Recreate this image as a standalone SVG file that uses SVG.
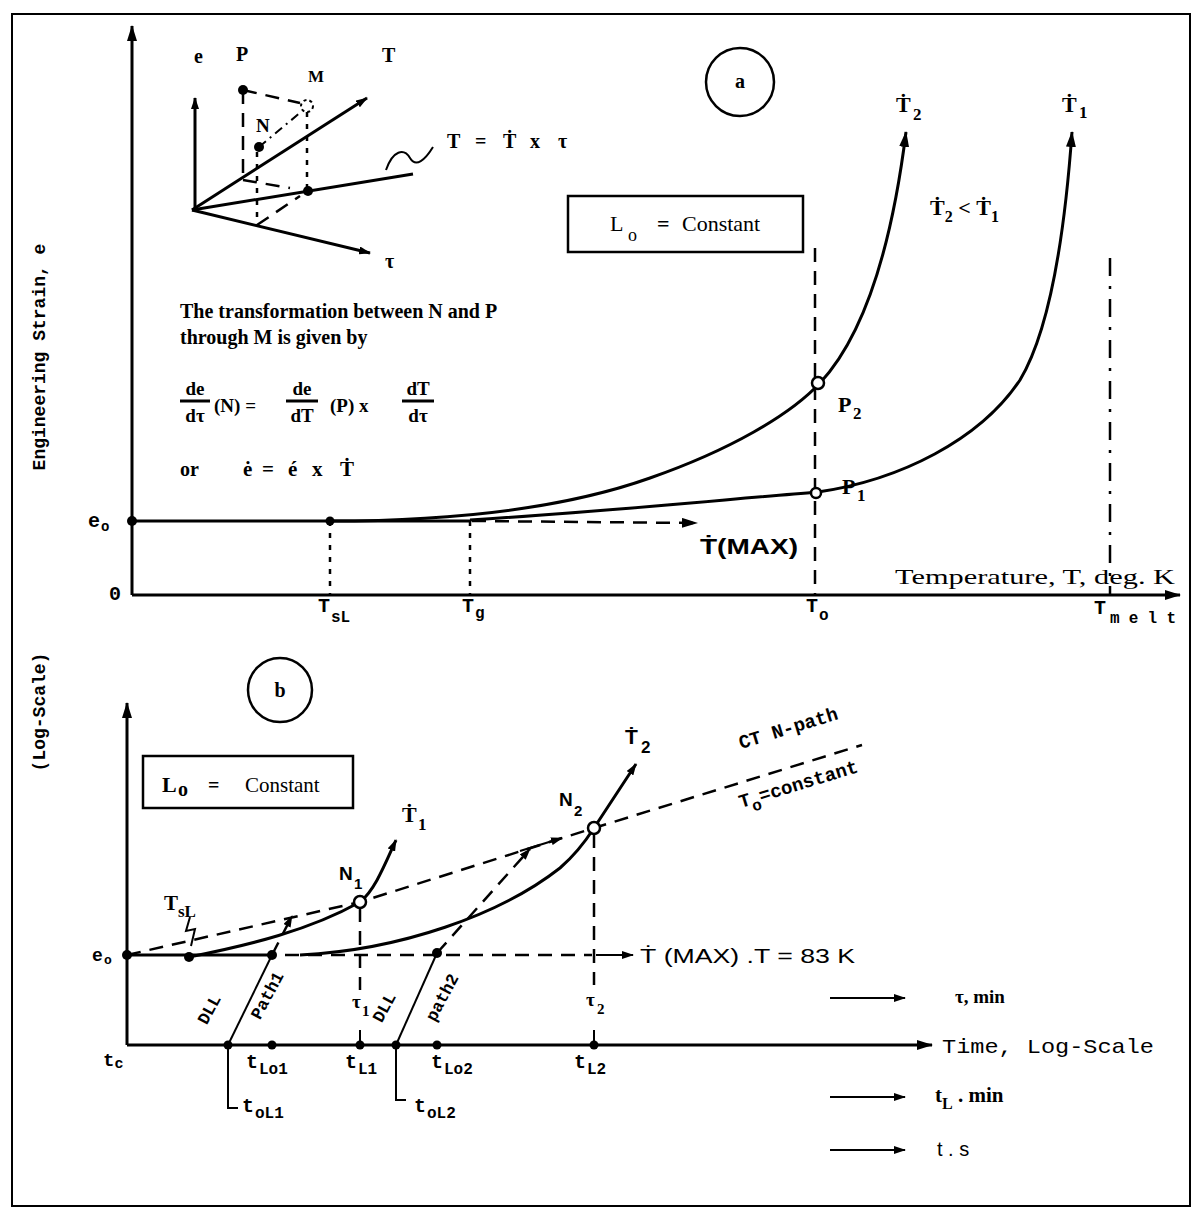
<svg xmlns="http://www.w3.org/2000/svg" width="1199" height="1220" viewBox="0 0 1199 1220">
<style>
.ln{stroke:#000;stroke-width:3;fill:none}
.th{stroke:#000;stroke-width:2;fill:none}
.ds{stroke:#000;stroke-width:2.5;fill:none;stroke-dasharray:14 9}
.dt{stroke:#000;stroke-width:2.5;fill:none;stroke-dasharray:5 7}
.dd{stroke:#000;stroke-width:2.5;fill:none;stroke-dasharray:18 10 3 10}
.dot{fill:#000}
.oc{fill:#fff;stroke:#000;stroke-width:2.5}
.sf{font-family:"Liberation Serif","DejaVu Serif",serif;font-weight:bold;fill:#000}
.mo{font-family:"Liberation Mono","DejaVu Sans Mono",monospace;font-weight:bold;fill:#000}
.ss{font-family:"Liberation Sans","DejaVu Sans",sans-serif;font-weight:bold;fill:#000}
.nw{font-weight:normal}
</style>
<defs>
<marker id="ah" viewBox="0 0 16 10" refX="15" refY="5" markerWidth="16" markerHeight="10" orient="auto" markerUnits="userSpaceOnUse"><path d="M0,0 L16,5 L0,10 Z" fill="#000"/></marker>
<marker id="as" viewBox="0 0 12 8" refX="11" refY="4" markerWidth="12" markerHeight="8" orient="auto" markerUnits="userSpaceOnUse"><path d="M0,0 L12,4 L0,8 Z" fill="#000"/></marker>
</defs>
<rect width="1199" height="1220" fill="#fff"/>
<rect x="12" y="14" width="1178" height="1192" fill="none" stroke="#000" stroke-width="2"/>

<g id="ylabel">
<text class="mo" font-size="18" text-anchor="middle" transform="translate(45,357) rotate(-90)">Engineering Strain, e</text>
<text class="mo" font-size="18" text-anchor="middle" transform="translate(45,712) rotate(-90)">(Log-Scale)</text>
</g>

<!-- ============ PANEL A ============ -->
<g id="panel-a-axes">
<line class="ln" x1="132" y1="595" x2="132" y2="26" marker-end="url(#ah)"/>
<line class="ln" x1="132" y1="595" x2="1180" y2="595" marker-end="url(#ah)"/>
<text class="mo" font-size="20" x="109" y="600">0</text>
<text class="mo" font-size="20" x="88" y="527">e</text><text class="mo" font-size="14" x="101" y="531">o</text>
<text class="sf nw" font-size="22" x="895" y="584" textLength="280" lengthAdjust="spacingAndGlyphs">Temperature, T, deg. K</text>
</g>

<g id="connectors-a">
<line class="ln" x1="132" y1="521" x2="470" y2="521"/>
<path class="ln" d="M330,521 C450,521 560,510 650,478 C730,450 790,415 820,383 C860,340 890,260 906,132" marker-end="url(#ah)"/>
<path class="ln" d="M470,520 C600,512 720,500 818,492 C900,480 980,440 1020,380 C1050,330 1065,230 1072,132" marker-end="url(#ah)"/>
<line class="ds" x1="472" y1="521" x2="697" y2="523" marker-end="url(#ah)"/>
<line class="dt" x1="330" y1="521" x2="330" y2="595"/>
<line class="dt" x1="470" y1="521" x2="470" y2="595"/>
<line class="ds" x1="815" y1="248" x2="815" y2="595"/>
<line class="dd" x1="1110" y1="258" x2="1110" y2="595"/>
</g>

<g id="nodes-a">
<circle class="dot" cx="132" cy="521" r="5"/>
<circle class="dot" cx="330" cy="521" r="4.5"/>
<circle class="oc" cx="818" cy="383" r="6"/>
<circle class="oc" cx="816" cy="493" r="5"/>
<text class="sf" font-size="22" x="838" y="412">P</text><text class="sf" font-size="17" x="853" y="419">2</text>
<text class="sf" font-size="22" x="842" y="494">P</text><text class="sf" font-size="17" x="857" y="501">1</text>
<text class="ss" font-size="22" x="700" y="554" textLength="98" lengthAdjust="spacingAndGlyphs">Ṫ(MAX)</text>
<text class="mo" font-size="20" x="318" y="612">T</text><text class="mo" font-size="16" x="331" y="622">sL</text>
<text class="mo" font-size="20" x="462" y="612">T</text><text class="mo" font-size="16" x="475" y="618">g</text>
<text class="mo" font-size="20" x="806" y="612">T</text><text class="mo" font-size="16" x="819" y="620">o</text>
<text class="mo" font-size="20" x="1094" y="614">T</text><text class="mo" font-size="16" x="1110" y="623" textLength="66" lengthAdjust="spacing">melt</text>
<text class="sf" font-size="22" x="896" y="112">Ṫ</text><text class="sf" font-size="17" x="913" y="120">2</text>
<text class="sf" font-size="22" x="1062" y="112">Ṫ</text><text class="sf" font-size="17" x="1079" y="118">1</text>
<text class="sf" font-size="22" x="930" y="215">Ṫ<tspan font-size="16" dy="7">2</tspan><tspan dy="-7"> &lt; Ṫ</tspan><tspan font-size="16" dy="7">1</tspan></text>
</g>

<g id="label-a">
<circle cx="740" cy="82" r="34" fill="none" stroke="#000" stroke-width="2.5"/>
<text class="sf" font-size="20" x="740" y="88" text-anchor="middle">a</text>
</g>

<g id="box-a">
<rect x="568" y="196" width="235" height="56" fill="none" stroke="#000" stroke-width="2.5"/>
<text class="sf nw" font-size="22" x="610" y="231">L</text><text class="sf nw" font-size="18" x="628" y="241">o</text>
<text class="sf" font-size="22" x="657" y="231">=</text>
<text class="sf nw" font-size="22" x="682" y="231">Constant</text>
</g>

<g id="inset">
<line class="ln" x1="195" y1="210" x2="195" y2="98" marker-end="url(#as)"/>
<line class="ln" x1="192" y1="210" x2="367" y2="98" marker-end="url(#as)"/>
<line class="ln" x1="192" y1="210" x2="413" y2="174"/>
<line class="ln" x1="192" y1="210" x2="370" y2="253" marker-end="url(#as)"/>
<line class="ds" x1="243" y1="90" x2="300" y2="103" stroke-dasharray="10 6"/>
<line class="th" x1="259" y1="147" x2="301" y2="112" stroke-dasharray="9 5 2 5"/>
<line class="ds" x1="243" y1="90" x2="243" y2="177" stroke-dasharray="8 5"/>
<line class="dt" x1="307" y1="112" x2="307" y2="190"/>
<line class="ds" x1="243" y1="180" x2="290" y2="188" stroke-dasharray="8 6"/>
<line class="dt" x1="257" y1="152" x2="257" y2="225"/>
<line class="ds" x1="257" y1="225" x2="300" y2="196" stroke-dasharray="8 6"/>
<circle class="dot" cx="243" cy="90" r="5"/>
<circle cx="307" cy="106" r="6" fill="none" stroke="#000" stroke-width="2" stroke-dasharray="3 3"/>
<circle class="dot" cx="259" cy="147" r="5"/>
<circle class="dot" cx="308" cy="191" r="5"/>
<path class="th" d="M386,170 C393,150 404,148 410,158 C416,168 425,160 433,147"/>
<text class="sf" font-size="20" x="194" y="63">e</text>
<text class="sf" font-size="20" x="236" y="61">P</text>
<text class="sf" font-size="17" x="308" y="82">M</text>
<text class="sf" font-size="20" x="382" y="62">T</text>
<text class="sf" font-size="19" x="256" y="132">N</text>
<text class="sf" font-size="20" x="385" y="268">τ</text>
<text class="sf" font-size="20" x="447" y="148">T</text>
<text class="sf" font-size="20" x="475" y="148">=</text>
<text class="sf" font-size="20" x="503" y="148">Ṫ</text>
<text class="sf" font-size="20" x="530" y="148">x</text>
<text class="sf" font-size="20" x="558" y="148">τ</text>
</g>

<g id="text-block">
<text class="sf" font-size="20" x="180" y="318">The transformation between N and P</text>
<text class="sf" font-size="20" x="180" y="344">through M is given by</text>
<text class="sf" font-size="19" x="195" y="395" text-anchor="middle">de</text>
<line class="ln" x1="180" y1="401" x2="210" y2="401"/>
<text class="sf" font-size="19" x="195" y="422" text-anchor="middle">dτ</text>
<text class="sf" font-size="19" x="214" y="412">(N) =</text>
<text class="sf" font-size="19" x="302" y="395" text-anchor="middle">de</text>
<line class="ln" x1="286" y1="401" x2="318" y2="401"/>
<text class="sf" font-size="19" x="302" y="422" text-anchor="middle">dT</text>
<text class="sf" font-size="19" x="330" y="412">(P)  x</text>
<text class="sf" font-size="19" x="418" y="395" text-anchor="middle">dT</text>
<line class="ln" x1="402" y1="401" x2="434" y2="401"/>
<text class="sf" font-size="19" x="418" y="422" text-anchor="middle">dτ</text>
<text class="sf" font-size="20" x="180" y="476">or</text>
<text class="sf" font-size="21" x="243" y="476">ė</text>
<text class="sf" font-size="21" x="262" y="476">=</text>
<text class="sf" font-size="21" x="288" y="476">é</text>
<text class="sf" font-size="21" x="312" y="476">x</text>
<text class="sf" font-size="21" x="340" y="476">Ṫ</text>
</g>

<!-- ============ PANEL B ============ -->
<g id="label-b">
<circle cx="280" cy="690" r="32" fill="none" stroke="#000" stroke-width="2.5"/>
<text class="sf" font-size="20" x="280" y="697" text-anchor="middle">b</text>
</g>
<g id="box-b">
<rect x="143" y="756" width="210" height="52" fill="none" stroke="#000" stroke-width="2.5"/>
<text class="sf" font-size="22" x="162" y="792">L</text><text class="sf" font-size="20" x="178" y="796">o</text>
<text class="sf" font-size="20" x="208" y="792">=</text>
<text class="sf nw" font-size="21" x="245" y="792">Constant</text>
</g>

<g id="panel-b-axes">
<line class="ln" x1="127" y1="1045" x2="127" y2="703" marker-end="url(#ah)"/>
<line class="ln" x1="127" y1="1045" x2="932" y2="1045" marker-end="url(#ah)"/>
<text class="mo nw" font-size="21" x="942" y="1053" textLength="212" lengthAdjust="spacingAndGlyphs">Time, Log-Scale</text>
<line class="th" x1="830" y1="998" x2="905" y2="998" marker-end="url(#as)"/>
<text class="sf" font-size="19" x="955" y="1003">τ, min</text>
<line class="th" x1="830" y1="1097" x2="905" y2="1097" marker-end="url(#as)"/>
<text class="sf" font-size="21" x="935" y="1102">t<tspan font-size="16" dy="7">L</tspan><tspan dy="-7"> . min</tspan></text>
<line class="th" x1="830" y1="1150" x2="905" y2="1150" marker-end="url(#as)"/>
<text class="ss nw" font-size="20" x="937" y="1156">t . s</text>
<text class="mo" font-size="18" x="92" y="961">e</text><text class="mo" font-size="13" x="104" y="964">o</text>
</g>

<g id="connectors-b">
<path class="ds" d="M127,955 L360,902 L594,828 L862,745"/>
<line class="th" x1="520" y1="851" x2="562" y2="838" marker-end="url(#as)"/>
<line class="ln" x1="127" y1="955" x2="272" y2="955"/>
<path class="ln" d="M189,957 C250,945 310,930 360,902 C375,890 385,864 396,840" marker-end="url(#as)"/>
<path class="ln" d="M300,955 C400,950 500,915 560,868 C575,855 585,842 594,828 L636,764" marker-end="url(#as)"/>
<line class="ds" x1="285" y1="955" x2="592" y2="955"/>
<line class="th" x1="596" y1="955" x2="633" y2="955" marker-end="url(#as)"/>
<line class="th" x1="228" y1="1045" x2="272" y2="955"/>
<line class="ds" x1="272" y1="955" x2="292" y2="916" marker-end="url(#as)" stroke-dasharray="10 7"/>
<line class="th" x1="396" y1="1045" x2="437" y2="953"/>
<line class="ds" x1="437" y1="953" x2="530" y2="849" marker-end="url(#as)"/>
<line class="ds" x1="360" y1="908" x2="360" y2="990" stroke-dasharray="12 8"/>
<line class="th" x1="360" y1="1030" x2="360" y2="1045"/>
<line class="ds" x1="594" y1="834" x2="594" y2="985" stroke-dasharray="12 8"/>
<line class="th" x1="594" y1="1030" x2="594" y2="1045"/>
<path class="th" d="M228,1045 L228,1108 L238,1108"/>
<path class="th" d="M396,1045 L396,1100 L406,1100"/>
<path class="th" d="M190,917 L186,931 L195,929 L191,946"/>
</g>

<g id="nodes-b">
<circle class="dot" cx="127" cy="955" r="5"/>
<circle class="dot" cx="189" cy="957" r="5"/>
<circle class="dot" cx="272" cy="955" r="5"/>
<circle class="dot" cx="437" cy="953" r="5"/>
<circle class="oc" cx="360" cy="902" r="6"/>
<circle class="oc" cx="594" cy="828" r="6"/>
<circle class="dot" cx="228" cy="1045" r="4.5"/>
<circle class="dot" cx="272" cy="1045" r="4.5"/>
<circle class="dot" cx="360" cy="1045" r="4.5"/>
<circle class="dot" cx="396" cy="1045" r="4.5"/>
<circle class="dot" cx="437" cy="1045" r="4.5"/>
<circle class="dot" cx="594" cy="1045" r="4.5"/>
</g>

<g id="labels-b">
<text class="sf" font-size="21" x="164" y="910">T</text><text class="sf" font-size="17" x="178" y="917">sL</text>
<text class="ss" font-size="19" x="339" y="880">N</text><text class="ss" font-size="15" x="354" y="889">1</text>
<text class="ss" font-size="19" x="559" y="806">N</text><text class="ss" font-size="15" x="574" y="816">2</text>
<text class="sf" font-size="22" x="402" y="822">Ṫ</text><text class="sf" font-size="17" x="418" y="830">1</text>
<text class="ss" font-size="21" x="625" y="744">Ṫ</text><text class="ss" font-size="17" x="641" y="753">2</text>
<text class="ss nw" font-size="21" x="640" y="963" textLength="215" lengthAdjust="spacingAndGlyphs">Ṫ (MAX) .T = 83 K</text>
<text class="mo" font-size="19" text-anchor="middle" transform="translate(790,734) rotate(-17)">CT N-path</text>
<text class="mo" font-size="19" text-anchor="middle" transform="translate(800,790) rotate(-17)">T<tspan font-size="16" dy="7">o</tspan><tspan dy="-7">=constant</tspan></text>
<text class="mo" font-size="17" text-anchor="middle" transform="translate(214,1012) rotate(-62)">DLL</text>
<text class="mo" font-size="17" text-anchor="middle" transform="translate(272,998) rotate(-62)">Path1</text>
<text class="mo" font-size="17" text-anchor="middle" transform="translate(389,1010) rotate(-62)">DLL</text>
<text class="mo" font-size="17" text-anchor="middle" transform="translate(447,1000) rotate(-62)">path2</text>
<text class="sf" font-size="19" x="352" y="1008">τ</text><text class="sf" font-size="15" x="362" y="1016">1</text>
<text class="sf" font-size="19" x="586" y="1006">τ</text><text class="sf" font-size="15" x="597" y="1014">2</text>
<text class="mo" font-size="19" x="103" y="1066">t<tspan font-size="15" dy="2">c</tspan></text>
<text class="mo" font-size="20" x="246" y="1068">t</text><text class="mo" font-size="16" x="259" y="1074">Lo1</text>
<text class="mo" font-size="20" x="345" y="1068">t</text><text class="mo" font-size="16" x="358" y="1074">L1</text>
<text class="mo" font-size="20" x="431" y="1068">t</text><text class="mo" font-size="16" x="444" y="1074">Lo2</text>
<text class="mo" font-size="20" x="574" y="1068">t</text><text class="mo" font-size="16" x="587" y="1074">L2</text>
<text class="mo" font-size="20" x="242" y="1112">t</text><text class="mo" font-size="16" x="255" y="1118">oL1</text>
<text class="mo" font-size="20" x="414" y="1112">t</text><text class="mo" font-size="16" x="427" y="1118">oL2</text>
</g>
</svg>
